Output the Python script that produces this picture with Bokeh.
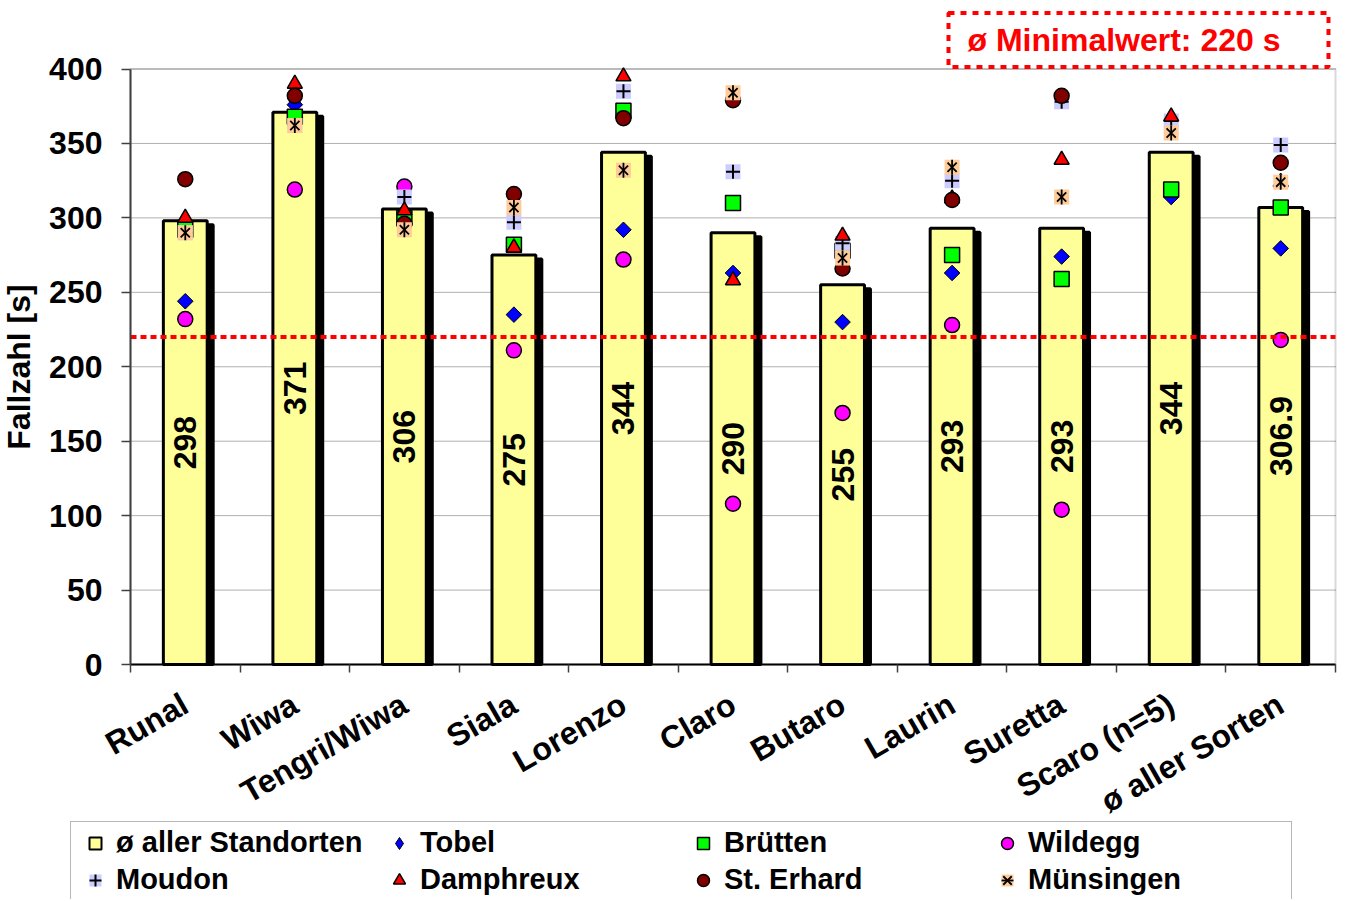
import math
from bokeh.plotting import figure
from bokeh.models import (ColumnDataSource, FixedTicker, Label, Legend, LegendItem,
                          Range1d, CustomJSTickFormatter, BoxAnnotation)
from bokeh.core.properties import value
from bokeh.embed import file_html
from bokeh.resources import INLINE

nan = float("nan")

categories = ["Runal", "Wiwa", "Tengri/Wiwa", "Siala", "Lorenzo", "Claro", "Butaro",
              "Laurin", "Suretta", "Scaro (n=5)", "ø aller Sorten"]
mean_all = [298, 371, 306, 275, 344, 290, 255, 293, 293, 344, 306.9]
mean_labels = ["298", "371", "306", "275", "344", "290", "255", "293", "293", "344", "306.9"]

tobel = [244, 376, 304, 235, 292, 263, 230, 263, 274, 314, 279.5]
bruetten = [292, 368, 300, 282, 372, 310, 278, 275, 259, 319, 307]
wildegg = [232, 319, 321, 211, 272, 108, 169, 228, 104, nan, 218]
moudon = [290, 362, 314, 297, 385, 331, 283, 325, 378, 365, 349]
damphreux = [300, 390, 305, 280, 395, 258, 288, 313, 339, 368, 324]
st_erhard = [326, 382, 296, 316, 367, 379, 266, 312, 382, nan, 337]
muensingen = [290, 362, 292, 307, 332, 384, 273, 334, 314, 357, 324]

y_ticks = [0, 50, 100, 150, 200, 250, 300, 350, 400]
y_max = 400
min_value = 220
min_text = "ø Minimalwert: 220 s"
y_title = "Fallzahl [s]"

FONT = "Liberation Sans"
W, H = 1340, 899
# plot area in page pixels (left, right, top of 400, bottom of 0)
PL, PR, PT, PB = 130, 1335, 68.5, 664

n = len(categories)
xs = [i + 0.5 for i in range(n)]
px_x = (PR - PL) / n
px_y = (PB - PT) / y_max

bars = ColumnDataSource(dict(
    x=xs, top=mean_all, label=mean_labels,
    mid=[v / 2 for v in mean_all],
    x_sh=[x + 6 / px_x for x in xs],
    top_sh=[v - 4 / px_y for v in mean_all],
))
pts = ColumnDataSource(dict(
    x=xs, tobel=tobel, bruetten=bruetten, wildegg=wildegg, moudon=moudon,
    damphreux=damphreux, st_erhard=st_erhard, muensingen=muensingen,
))
grid_src = ColumnDataSource(dict(x0=[0] * len(y_ticks), x1=[n] * len(y_ticks),
                                 y=y_ticks))
min_src = ColumnDataSource(dict(x0=[0], x1=[n], y=[min_value]))

# the frame covers the whole canvas; axes are pinned at x=0 / y=0
p = figure(width=W, height=H,
           x_range=Range1d(-PL / px_x, (W - PL) / px_x),
           y_range=Range1d(-(H - PB) / px_y, PB / px_y),
           output_backend="svg", toolbar_location=None, min_border=0,
           min_border_left=0, min_border_right=0, min_border_top=0, min_border_bottom=0)
p.background_fill_color = "white"
p.border_fill_color = "white"
p.outline_line_color = None
p.xgrid.visible = False
p.ygrid.visible = False

# horizontal grid lines
p.segment(x0="x0", x1="x1", y0="y", y1="y", line_color="#606060", line_dash="1 1",
          line_width=1, source=grid_src)
p.add_layout(BoxAnnotation(left=0, right=n, bottom=0, top=y_max, fill_color=None,
                           line_color="#808080", line_width=2, level="underlay"))

# bars with shadow
p.vbar(x="x_sh", top="top_sh", bottom=0, width=0.4, fill_color="black",
       line_color="black", line_width=3, source=bars)
p.vbar(x="x", top="top", bottom=0, width=0.4, fill_color="#FFFF99",
       line_color="black", line_width=3, source=bars)
p.text(x="x", y="mid", text="label", angle=math.pi / 2, text_align="center",
       text_baseline="middle", text_font=value(FONT), text_font_style="bold",
       text_font_size="32px", text_color="black", source=bars)

# station markers
r_tobel = p.scatter(x="x", y="tobel", marker="square", angle=math.pi / 4, size=11,
                    fill_color="#0000FF", line_color="black", line_width=1, source=pts)
r_bru = p.scatter(x="x", y="bruetten", marker="square", size=15,
                  fill_color="#00FF00", line_color="black", line_width=1.5, source=pts)
r_wil = p.scatter(x="x", y="wildegg", marker="circle", size=15,
                  fill_color="#FF00FF", line_color="black", line_width=1.5, source=pts)
r_mou_bg = p.scatter(x="x", y="moudon", marker="square", size=15,
                     fill_color="#CCCCFF", line_color=None, source=pts)
r_mou = p.scatter(x="x", y="moudon", marker="cross", size=14,
                  line_color="black", line_width=2, source=pts)
r_dam = p.scatter(x="x", y="damphreux", marker="triangle", size=15,
                  fill_color="#FF0000", line_color="black", line_width=1.5, source=pts)
r_ste = p.scatter(x="x", y="st_erhard", marker="circle", size=15,
                  fill_color="#800000", line_color="black", line_width=1.5, source=pts)
r_mue_bg = p.scatter(x="x", y="muensingen", marker="square", size=15,
                     fill_color="#FFCC99", line_color=None, source=pts)
r_mue_x = p.scatter(x="x", y="muensingen", marker="x", size=13,
                    line_color="black", line_width=1.8, source=pts)
r_mue_v = p.scatter(x="x", y="muensingen", marker="dash", angle=math.pi / 2, size=15,
                    line_color="black", line_width=1.8, source=pts)

# legend-only renderers
bar_leg = p.scatter(x="x", y="top", marker="square", size=14, fill_color="#FFFF99",
                    line_color="black", line_width=2, source=bars, visible=False)
tobel_leg = p.scatter(x="x", y="tobel", marker="diamond", size=14, fill_color="#0000FF",
                      line_color="black", line_width=1, source=pts, visible=False)

# minimum line
p.segment(x0="x0", x1="x1", y0="y", y1="y", line_color="#FF0000", line_width=4,
          line_dash="6 4", source=min_src)

# axes
xa = p.xaxis[0]
xa.fixed_location = 0
xa.bounds = (0, n)
xa.ticker = FixedTicker(ticks=xs, minor_ticks=list(range(n + 1)))
xa.formatter = CustomJSTickFormatter(args=dict(cats=categories),
                                     code="return cats[Math.floor(tick)];")
xa.major_label_orientation = math.pi / 6
xa.major_tick_out = 0
xa.major_tick_in = 0
xa.minor_tick_out = 8
xa.minor_tick_in = 0
xa.minor_tick_line_color = "#404040"
xa.minor_tick_line_width = 1.5
xa.axis_line_color = "black"
xa.axis_line_width = 2
xa.major_label_text_font = FONT
xa.major_label_text_font_style = "bold"
xa.major_label_text_font_size = "32px"
xa.major_label_text_color = "black"
xa.major_label_standoff = 29

ya = p.yaxis[0]
ya.fixed_location = 0
ya.bounds = (0, y_max)
ya.ticker = FixedTicker(ticks=y_ticks)
ya.major_tick_out = 9
ya.major_tick_in = 0
ya.minor_tick_line_color = None
ya.major_tick_line_color = "#404040"
ya.major_tick_line_width = 1.5
ya.axis_line_color = "#404040"
ya.axis_line_width = 2
ya.major_label_text_font = FONT
ya.major_label_text_font_style = "bold"
ya.major_label_text_font_size = "32px"
ya.major_label_text_color = "black"
ya.major_label_standoff = 19
ya.axis_label = y_title
ya.axis_label_text_font = FONT
ya.axis_label_text_font_style = "bold"
ya.axis_label_text_font_size = "32px"
ya.axis_label_text_color = "black"
ya.axis_label_standoff = 9

# annotation box (screen units from the canvas' bottom-left)
p.add_layout(Label(x=948, y=H - 39.5, x_units="screen", y_units="screen", text=min_text,
                   text_font=FONT, text_font_style="bold", text_font_size="32px",
                   text_color="#FF0000", text_align="left", text_baseline="middle",
                   border_line_color="#FF0000", border_line_width=4, border_line_dash="6 6",
                   background_fill_color="white",
                   padding=dict(left=19, right=48, top=9, bottom=9)))

legend = Legend(items=[
    LegendItem(label="ø aller Standorten", renderers=[bar_leg]),
    LegendItem(label="Tobel", renderers=[tobel_leg]),
    LegendItem(label="Brütten", renderers=[r_bru]),
    LegendItem(label="Wildegg", renderers=[r_wil]),
    LegendItem(label="Moudon", renderers=[r_mou_bg, r_mou]),
    LegendItem(label="Damphreux", renderers=[r_dam]),
    LegendItem(label="St. Erhard", renderers=[r_ste]),
    LegendItem(label="Münsingen", renderers=[r_mue_bg, r_mue_x, r_mue_v]),
], location=(70, -2), orientation="horizontal", ncols=4,
    glyph_width=40, glyph_height=30, label_height=30, label_width=259,
    label_standoff=1, spacing=4, padding=4, margin=0,
    border_line_color="#707070", border_line_width=1.5,
    label_text_font=FONT, label_text_font_style="bold", label_text_font_size="29px",
    label_text_color="black", background_fill_color="white", background_fill_alpha=1)
p.add_layout(legend, "center")

open("out.html", "w").write(file_html(p, INLINE))
